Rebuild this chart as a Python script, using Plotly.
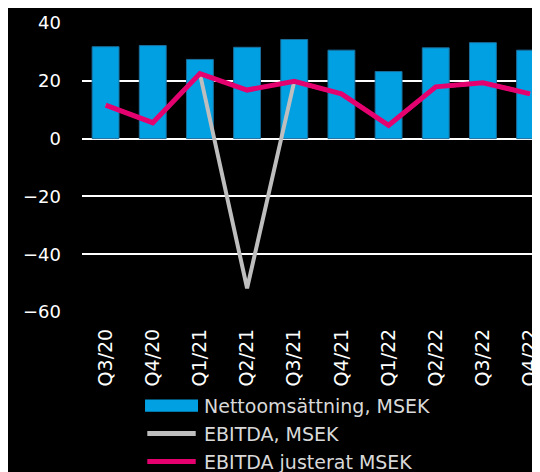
import plotly.graph_objects as go

quarters = ["Q3/20", "Q4/20", "Q1/21", "Q2/21", "Q3/21", "Q4/21", "Q1/22", "Q2/22", "Q3/22", "Q4/22"]
nettoomsattning = [31.8, 32.2, 27.4, 31.6, 34.3, 30.6, 23.2, 31.4, 33.2, 30.6]
ebitda = [11.6, 5.5, 22.5, -51.8, 19.8, 15.5, 4.6, 17.9, 19.3, 15.5]
ebitda_justerat = [11.6, 5.5, 22.5, 16.8, 19.8, 15.5, 4.6, 17.9, 19.3, 15.5]
y_ticks = [-60, -40, -20, 0, 20, 40]
series_names = ["Nettoomsättning, MSEK", "EBITDA, MSEK", "EBITDA justerat MSEK"]
series_colors = ["#00A0E3", "#BEBEBE", "#E4006E"]

FONT = "DejaVu Sans"

fig = go.Figure()
fig.add_trace(go.Bar(
    x=quarters, y=nettoomsattning, name=series_names[0],
    marker=dict(color=series_colors[0], line=dict(color="#1B6E9C", width=1)),
    width=0.57,
))
fig.add_trace(go.Scatter(
    x=quarters, y=ebitda, name=series_names[1], mode="lines",
    line=dict(color=series_colors[1], width=4),
))
fig.add_trace(go.Scatter(
    x=quarters, y=ebitda_justerat, name=series_names[2], mode="lines",
    line=dict(color=series_colors[2], width=5),
))

# Custom legend (wide swatches as in the reference)
leg_y = [-0.324, -0.4207, -0.5175]
sx0, sx1, tx = 0.1376, 0.2533, 0.2620
shapes = [
    dict(type="rect", xref="paper", yref="paper", x0=sx0, x1=sx1,
         y0=leg_y[0] - 0.021, y1=leg_y[0] + 0.021,
         fillcolor=series_colors[0], line=dict(width=0)),
    dict(type="line", xref="paper", yref="paper", x0=sx0 + 0.005, x1=sx1 - 0.005,
         y0=leg_y[1], y1=leg_y[1], line=dict(color=series_colors[1], width=5)),
    dict(type="line", xref="paper", yref="paper", x0=sx0 + 0.005, x1=sx1 - 0.005,
         y0=leg_y[2], y1=leg_y[2], line=dict(color=series_colors[2], width=5)),
]
annotations = [
    dict(text=name, xref="paper", yref="paper", x=tx, y=yy, xanchor="left",
         yanchor="middle", showarrow=False,
         font=dict(family=FONT, size=19, color="#D9D9D9"))
    for name, yy in zip(series_names, leg_y)
]

fig.update_layout(
    width=532, height=464,
    margin=dict(l=74, r=0, t=15, b=160, pad=0),
    paper_bgcolor="black", plot_bgcolor="black",
    font=dict(family=FONT, color="white", size=18),
    showlegend=False,
    shapes=shapes,
    annotations=annotations,
    xaxis=dict(
        range=[-0.5, 9.21], tickangle=-90, showgrid=False, zeroline=False,
        showline=False, ticks="", tickfont=dict(size=19, color="white"),
        ticklabelstandoff=12, fixedrange=True,
    ),
    yaxis=dict(
        range=[-60, 40], tickvals=y_ticks, showgrid=True, gridcolor="white",
        gridwidth=1.5, zeroline=True, zerolinecolor="white", zerolinewidth=1.5,
        showline=False, ticks="", ticklabelstandoff=20,
        tickfont=dict(size=18, color="white"),
    ),
)

fig.write_html("out.html")
